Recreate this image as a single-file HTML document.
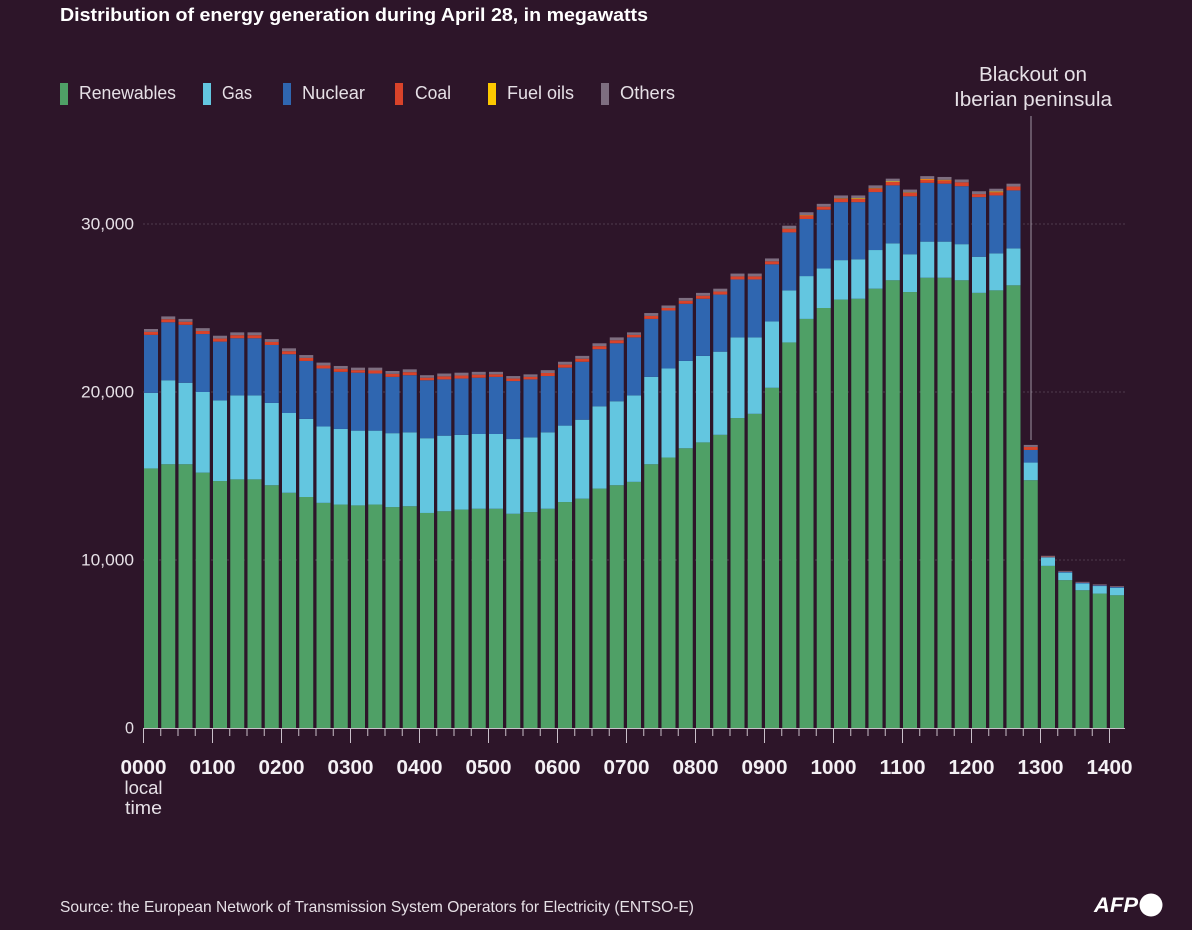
<!DOCTYPE html>
<html lang="en">
<head>
<meta charset="utf-8">
<title>Distribution of energy generation during April 28</title>
<style>
html,body{margin:0;padding:0;background:#2d1529;width:1192px;height:930px;overflow:hidden}
svg{display:block}
text{font-family:"Liberation Sans",sans-serif;fill:#e6e0e6}
</style>
</head>
<body>
<svg id="chart" xmlns="http://www.w3.org/2000/svg" width="1192" height="930" viewBox="0 0 1192 930">
  <rect x="0" y="0" width="1192" height="930" fill="#2d1529"/>
  <text x="60" y="21" font-size="18" font-weight="700" style="fill:#fff" textLength="588" lengthAdjust="spacingAndGlyphs">Distribution of energy generation during April 28, in megawatts</text>

  <g>
    <g>
      <rect x="60" y="83" width="8" height="22" fill="#4fa066"/>
      <text x="79" y="99" font-size="18" textLength="97" lengthAdjust="spacingAndGlyphs">Renewables</text>
    </g>
    <g>
      <rect x="203" y="83" width="8" height="22" fill="#63c6e0"/>
      <text x="222" y="99" font-size="18" textLength="30" lengthAdjust="spacingAndGlyphs">Gas</text>
    </g>
    <g>
      <rect x="283" y="83" width="8" height="22" fill="#2f66b0"/>
      <text x="302" y="99" font-size="18" textLength="63" lengthAdjust="spacingAndGlyphs">Nuclear</text>
    </g>
    <g>
      <rect x="395" y="83" width="8" height="22" fill="#d9432a"/>
      <text x="415" y="99" font-size="18" textLength="36" lengthAdjust="spacingAndGlyphs">Coal</text>
    </g>
    <g>
      <rect x="488" y="83" width="8" height="22" fill="#fcc800"/>
      <text x="507" y="99" font-size="18" textLength="67" lengthAdjust="spacingAndGlyphs">Fuel oils</text>
    </g>
    <g>
      <rect x="601" y="83" width="8" height="22" fill="#7e6e80"/>
      <text x="620" y="99" font-size="18" textLength="55" lengthAdjust="spacingAndGlyphs">Others</text>
    </g>
  </g>

  <g id="grid"></g>
  <g id="bars"></g>
  <g id="yaxis"></g>
  <g id="xaxis"></g>

  <text x="143.5" y="794" font-size="18" text-anchor="middle" textLength="38" lengthAdjust="spacingAndGlyphs">local</text>
  <text x="143.5" y="814" font-size="18" text-anchor="middle" textLength="37" lengthAdjust="spacingAndGlyphs">time</text>

  <g>
    <text x="1033" y="81" font-size="20" text-anchor="middle" textLength="108" lengthAdjust="spacingAndGlyphs">Blackout on</text>
    <text x="1033" y="106" font-size="20" text-anchor="middle" textLength="158" lengthAdjust="spacingAndGlyphs">Iberian peninsula</text>
    <line x1="1031" y1="116" x2="1031" y2="440" stroke="#8d8090" stroke-width="1.2"/>
  </g>

  <text x="60" y="912" font-size="16" textLength="634" lengthAdjust="spacingAndGlyphs">Source: the European Network of Transmission System Operators for Electricity (ENTSO-E)</text>

  <g>
    <text x="1094" y="912" font-size="21" font-weight="700" font-style="italic" style="fill:#fff" textLength="44" lengthAdjust="spacingAndGlyphs">AFP</text>
    <circle cx="1151" cy="905" r="11.5" fill="#fff"/>
  </g>
</svg>

<script>
var hourLabels = ['0000','0100','0200','0300','0400','0500','0600','0700','0800','0900','1000','1100','1200','1300','1400'];
var yTicks = [0, 10000, 20000, 30000];
var yTickLabels = ['0', '10,000', '20,000', '30,000'];
var yTickWidths = [9, 53, 53, 53];

var renewables = [15450,15700,15700,15200,14700,14800,14800,14450,14000,13750,13400,13300,13250,13300,13150,13200,12800,12900,13000,13050,13050,12750,12850,13050,13450,13650,14250,14450,14650,15700,16100,16650,17000,17450,18450,18700,20250,22950,24350,25000,25500,25550,26150,26650,25950,26800,26800,26650,25900,26050,26350,14750,9650,8800,8200,8000,7900];
var gas = [4500,5000,4850,4800,4800,5000,5000,4900,4750,4650,4550,4500,4450,4400,4400,4400,4450,4500,4450,4450,4450,4450,4450,4550,4550,4700,4900,5000,5150,5200,5300,5200,5150,4950,4800,4550,3950,3100,2550,2350,2350,2350,2300,2200,2250,2150,2150,2150,2150,2200,2200,1050,500,450,400,450,450];
var nuclear = [3450,3450,3450,3450,3500,3400,3400,3450,3500,3450,3450,3400,3450,3400,3350,3400,3450,3350,3350,3350,3400,3450,3450,3350,3450,3450,3400,3450,3450,3450,3450,3400,3400,3400,3450,3450,3400,3450,3400,3500,3450,3400,3450,3450,3450,3500,3450,3450,3550,3450,3450,750,20,50,50,50,50];
var coal = [180,180,180,180,180,180,180,180,180,180,180,180,150,180,180,180,150,180,180,180,150,150,150,180,180,180,180,180,150,180,150,180,180,180,180,180,180,210,210,180,210,190,210,200,210,200,200,230,180,190,230,180,30,10,10,10,10];
var fuelOils = [0,0,0,0,0,0,0,0,0,0,0,0,0,0,0,0,0,0,0,0,0,0,0,0,0,0,0,0,0,0,0,0,0,0,0,0,0,10,20,0,20,40,20,30,20,30,30,0,0,40,0,0,0,0,0,0,0];
var others = [170,170,170,170,170,170,170,170,170,170,170,170,150,170,170,170,150,170,170,170,150,150,150,170,170,170,170,170,150,170,150,170,170,170,170,170,170,180,170,170,170,170,170,170,170,170,170,170,170,170,170,120,50,40,40,40,40];

var seriesNames = ['renewables','gas','nuclear','coal','fuel-oils','others'];
var seriesValues = [renewables, gas, nuclear, coal, fuelOils, others];
var seriesColors = ['#4fa066','#63c6e0','#2f66b0','#d9432a','#fcc800','#7e6e80'];

var SVGNS = 'http://www.w3.org/2000/svg';
var barsPerHour = 4;
var plotLeft = 143.5, plotRight = 1125, step = 17.25, barWidth = 14;
function xScale(i){ return plotLeft + 0.5 + i * step; }
function yScale(v){ return 728 - v * 168 / 10000; }
function mk(tag, attrs, parent){
  var el = document.createElementNS(SVGNS, tag);
  for (var k in attrs) el.setAttribute(k, attrs[k]);
  parent.appendChild(el);
  return el;
}

var gridG = document.getElementById('grid');
var barsG = document.getElementById('bars');
var yG = document.getElementById('yaxis');
var xG = document.getElementById('xaxis');

yTicks.forEach(function(t, i){
  if (t > 0) {
    var g = mk('line', {x1: plotLeft, x2: plotRight, y1: yScale(t), y2: yScale(t), stroke: '#6f6072', 'stroke-width': 1, 'stroke-dasharray': '1 3'}, gridG);
    
    
  }
  var lab = mk('text', {x: 134, y: yScale(t) + 5.5, 'font-size': 17, 'text-anchor': 'end', textLength: yTickWidths[i], lengthAdjust: 'spacingAndGlyphs'}, yG);
  lab.textContent = yTickLabels[i];
  
  
});

renewables.forEach(function(_, i){
  var base = 0;
  var group = mk('g', {}, barsG);
  
  
  seriesValues.forEach(function(vals, s){
    var v = vals[i];
    if (v > 0) {
      var r = mk('rect', {x: xScale(i), y: yScale(base + v), width: barWidth, height: yScale(base) - yScale(base + v), fill: seriesColors[s]}, group);
      
      
    }
    base += v;
  });
});

var axisLine = mk('line', {x1: plotLeft - 0.5, x2: plotRight, y1: 728.5, y2: 728.5, stroke: '#c9bfc9', 'stroke-width': 1}, xG);



renewables.forEach(function(_, i){
  var major = i % barsPerHour === 0;
  var tx = plotLeft + i * step;
  var tick = mk('line', {x1: tx, x2: tx, y1: 728, y2: major ? 743 : 736, stroke: '#c9bfc9', 'stroke-width': 1}, xG);
  
  
});

hourLabels.forEach(function(h, i){
  var lab = mk('text', {x: plotLeft + i * barsPerHour * step, y: 774, 'font-size': 20, 'font-weight': 700, 'text-anchor': 'middle', textLength: 46, lengthAdjust: 'spacingAndGlyphs'}, xG);
  lab.style.fill = '#f4f0f4';
  lab.textContent = h;
  
  
});
</script>
</body>
</html>
